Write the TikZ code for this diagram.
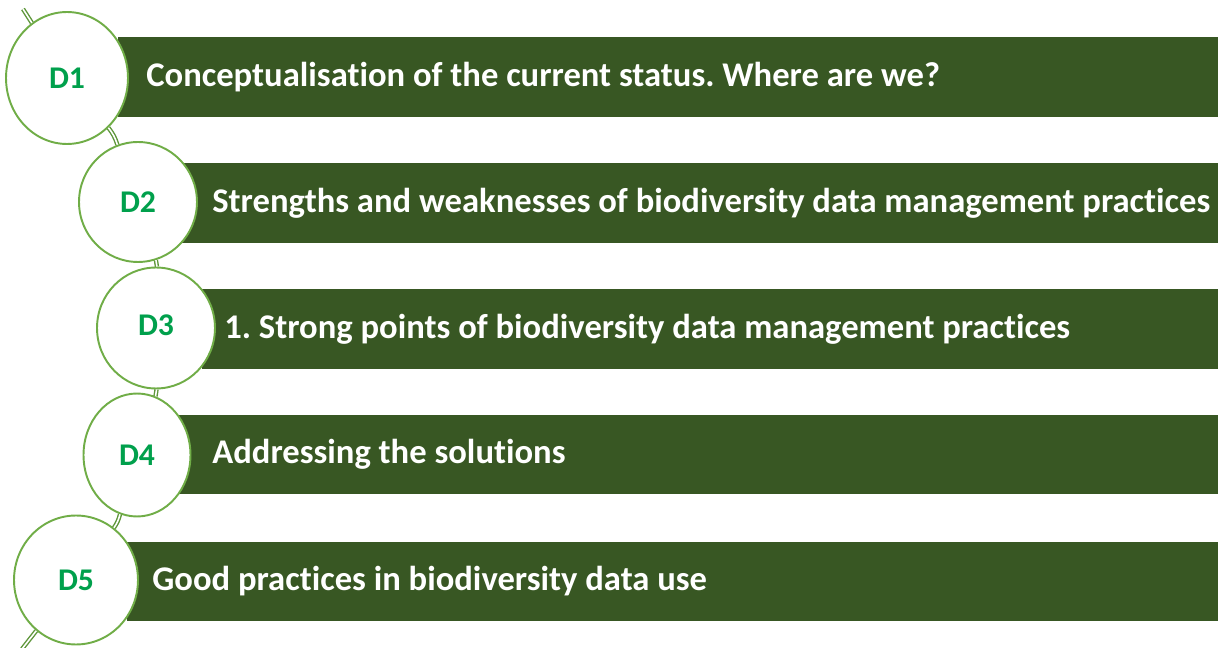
\documentclass[tikz,border=0pt]{standalone}
\usepackage{fontspec}
\setmainfont{Carlito}[Ligatures=NoCommon]
\usepackage{xcolor}
\usetikzlibrary{positioning, shapes.geometric}

\definecolor{bargreen}{RGB}{56,87,35}
\definecolor{ringgreen}{RGB}{112,173,71}
\definecolor{linkgreen}{RGB}{94,150,58}
\definecolor{taggreen}{RGB}{0,160,76}

\begin{document}
\frenchspacing
\begin{tikzpicture}[
        x=0.02cm, y=-0.02cm,
        bar/.style={fill=bargreen},
        ring/.style={ellipse, draw=ringgreen, line width=1.1pt, fill=white, inner sep=0pt,
            font=\fontsize{18}{20}\selectfont\bfseries, text=taggreen},
        caption/.style={anchor=west, inner sep=0pt, text=white,
            font=\fontsize{19.7}{22}\selectfont\bfseries},
        link/.style={draw=linkgreen, line width=0.8pt, double=white, double distance=0.9pt}
    ]
        \useasboundingbox (0,0) rectangle (1218,648);

        % bars
        \path[bar] (118,37) rectangle (1218,117);
        \path[bar] (182,163) rectangle (1218,243);
        \path[bar] (202,289) rectangle (1218,369);
        \path[bar] (178,415) rectangle (1218,494);
        \path[bar] (127,542) rectangle (1218,621);

        % circles
        \node[ring, minimum width=2.44cm, minimum height=2.64cm] (d1) at (67,78) {D1};
        \node[ring, minimum width=2.36cm, minimum height=2.40cm] (d2) at (138,202) {D2};
        \node[ring, minimum width=2.36cm, minimum height=2.42cm] (d3) at (156,328) {\raisebox{3pt}{D3}};
        \node[ring, minimum width=2.14cm, minimum height=2.46cm] (d4) at (137,455) {\raisebox{-4pt}{D4}};
        \node[ring, minimum width=2.48cm, minimum height=2.58cm] (d5) at (76,580) {D5};

        % texts
        \node[caption] (t1) at (146,77) {Conceptualisation of the current status. Where are we?};
        \node[caption] (t2) at (212,203) {Strengths and weaknesses of biodiversity data management practices};
        \node[caption] (t3) at (224,329) {1. Strong points of biodiversity data management practices};
        \node[caption] (t4) at (212,454) {Addressing the solutions};
        \node[caption] (t5) at (152,581) {Good practices in biodiversity data use};

        % links
        \coordinate (top) at (23,9);
        \coordinate (bottom) at (22,649);
        \draw[link] (top) -- (d1);
        \draw[link] (d1) to[bend left=10] (d2);
        \draw[link] (d2) to[bend left=9] (d3);
        \draw[link] (d3) to[bend left=9] (d4);
        \draw[link] (d4) to[bend left=10] (d5);
        \draw[link] (d5) -- (bottom);
    \end{tikzpicture}
\end{document}
